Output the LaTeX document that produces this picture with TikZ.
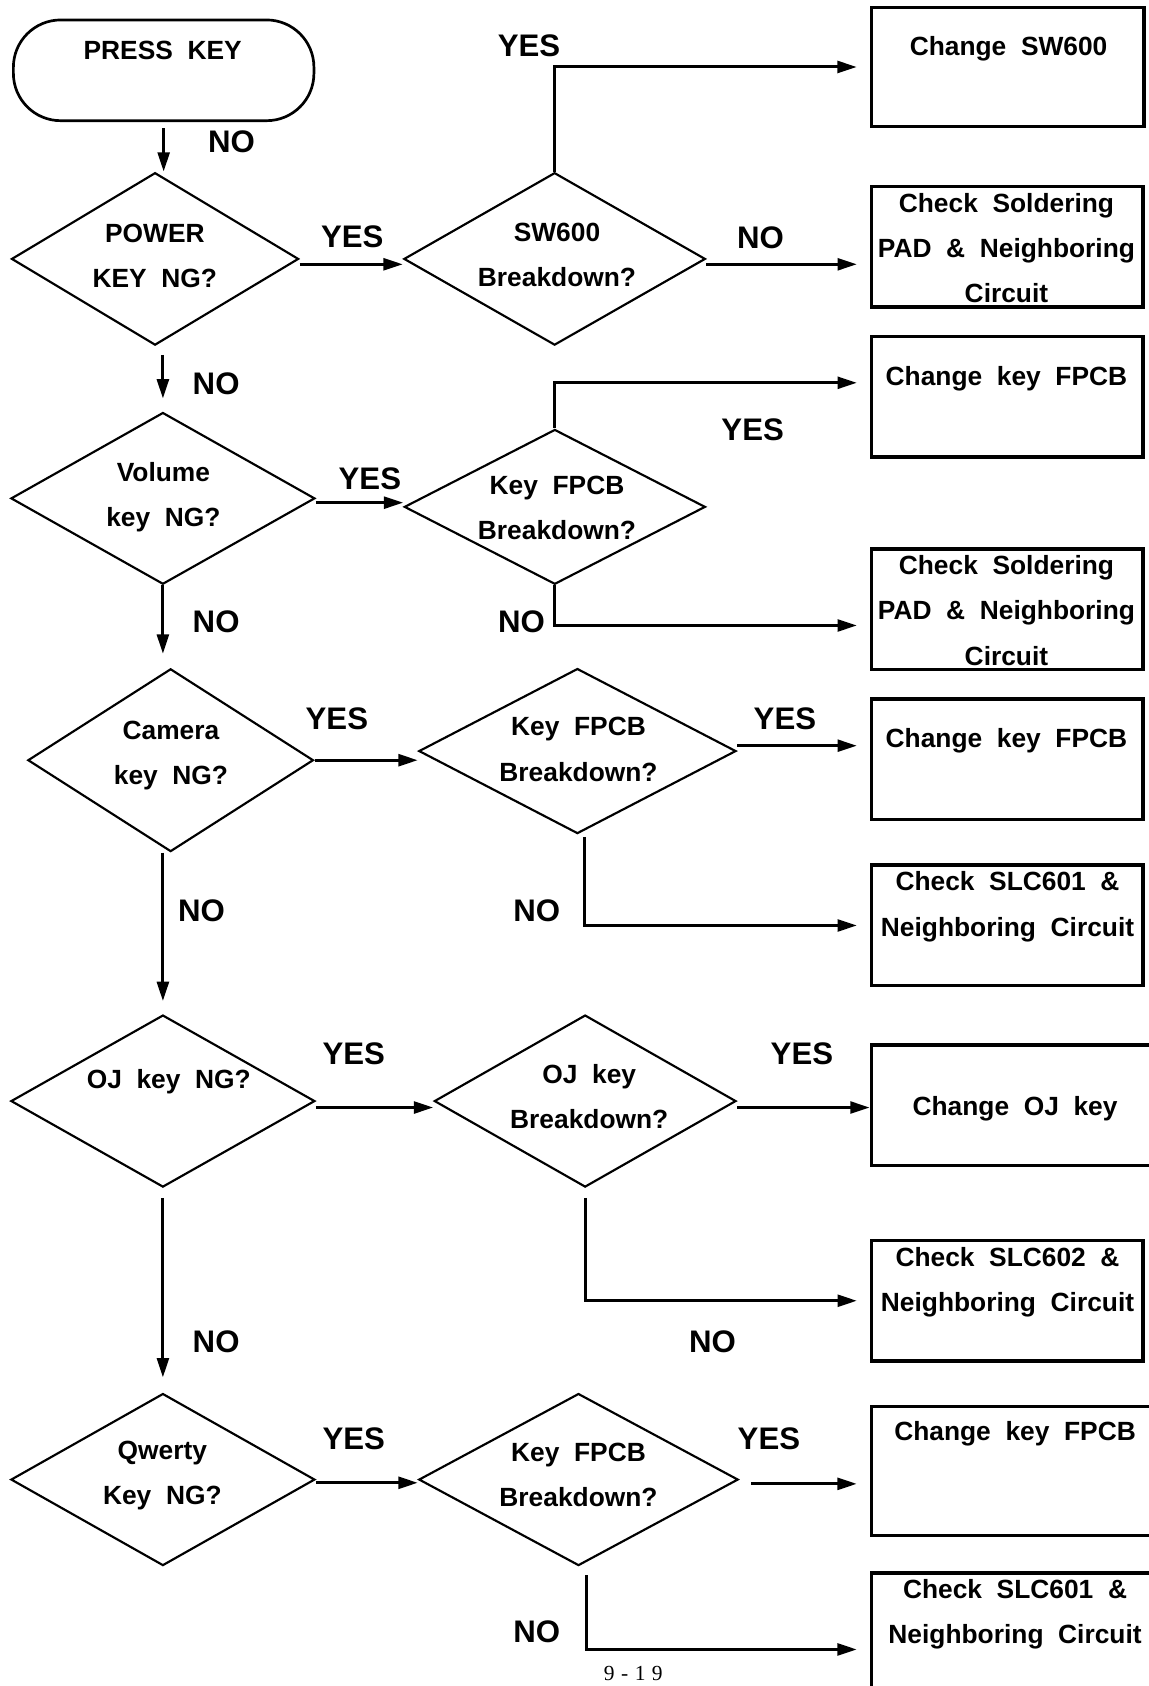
\documentclass[tikz,border=0pt]{standalone}
\usepackage{fontspec}
\setmainfont{Liberation Sans}[WordSpace=2]
\newfontfamily\pagenumfont{Liberation Serif}[LetterSpace=30]
\usepackage{tikz}
\usetikzlibrary{arrows.meta,shapes,positioning}

\begin{document}
\begin{tikzpicture}[x=1pt, y=-1pt,
    decision/.style={draw, diamond, line width=2pt, inner sep=0pt},
    action/.style={draw, line width=3.3pt, minimum width=252.5pt,
                   minimum height=112pt, inner sep=0pt},
    txt/.style={font=\fontsize{24.5}{42}\selectfont\bfseries, align=center, inner sep=0pt},
    answer/.style={font=\fontsize{29}{34}\selectfont\bfseries, inner sep=0pt},
    flow/.style={line width=2.8pt, -{Triangle[length=18pt, width=11pt]}}]
    \useasboundingbox (0,0) rectangle (1068,1568);

    \node[draw, line width=2.5pt, rounded corners=44pt,
          minimum width=279.5pt, minimum height=93.7pt] (start) at (152.2,65.4) {};
    \node[txt] (starttext) at (151.3,46.5) {PRESS KEY};

    \node[decision, minimum width=267pt, minimum height=160.4pt] (power) at (144.2,240.8) {};
    \node[decision, minimum width=282.7pt, minimum height=159.7pt] (volume) at (151.5,463.5) {};
    \node[decision, minimum width=265.6pt, minimum height=170pt] (camera) at (158.7,707) {};
    \node[decision, minimum width=282.7pt, minimum height=160pt] (ojkey) at (151.5,1024) {};
    \node[decision, minimum width=282.7pt, minimum height=160pt] (qwerty) at (151.5,1376) {};

    \node[decision, minimum width=280.4pt, minimum height=160.4pt] (sw) at (515.8,240.8) {};
    \node[decision, minimum width=280pt, minimum height=144pt] (fpcba) at (516,471.4) {};
    \node[decision, minimum width=295pt, minimum height=153.5pt] (fpcbb) at (537,698.5) {};
    \node[decision, minimum width=280.6pt, minimum height=160pt] (ojbrk) at (544.2,1024) {};
    \node[decision, minimum width=297pt, minimum height=160pt] (fpcbc) at (538,1376) {};

    \node[txt] (powertext) at (144,238) {POWER\\KEY NG?};
    \node[txt] (volumetext) at (152,462.5) {Volume\\key NG?};
    \node[txt] (cameratext) at (159,702.5) {Camera\\key NG?};
    \node[txt] (ojkeytext) at (157,1006) {OJ key NG?};
    \node[txt] (qwertytext) at (151,1372.5) {Qwerty\\Key NG?};

    \node[txt] (swtext) at (518,237) {SW600\\Breakdown?};
    \node[txt] (fpcbatext) at (518,472) {Key FPCB\\Breakdown?};
    \node[txt] (fpcbbtext) at (538,697) {Key FPCB\\Breakdown?};
    \node[txt] (ojbrktext) at (548,1020) {OJ key\\Breakdown?};
    \node[txt] (fpcbctext) at (538,1372) {Key FPCB\\Breakdown?};

    \node[action, minimum width=253.5pt, minimum height=111pt] (chsw) at (937.2,62.3) {};
    \node[action] (chpada) at (936.8,229.5) {};
    \node[action] (chfpcba) at (936.8,369) {};
    \node[action] (chpadb) at (936.8,566.7) {};
    \node[action] (chfpcbb) at (936.8,706) {};
    \node[action] (chslca) at (936.8,860.7) {};
    \node[action, minimum width=279.6pt] (choj) at (950.2,1027.9) {};
    \node[action] (chslcb) at (936.8,1209.7) {};
    \node[action, minimum width=279.5pt, minimum height=120pt] (chfpcbc) at (950.2,1368) {};
    \node[action, minimum width=279.5pt, minimum height=142pt] (chslcc) at (950.2,1534) {};

    \node[txt] (chswtext) at (938,45.7) {Change SW600};
    \node[txt] (chpadatext) at (936,230.8) {Check Soldering\\PAD \& Neighboring\\Circuit};
    \node[txt] (chfpcbatext) at (936,352.3) {Change key FPCB};
    \node[txt] (chpadbtext) at (936,567.8) {Check Soldering\\PAD \& Neighboring\\Circuit};
    \node[txt] (chfpcbbtext) at (936,689.3) {Change key FPCB};
    \node[txt] (chslcatext) at (937,843.3) {Check SLC601 \&\\Neighboring Circuit};
    \node[txt] (chojtext) at (944,1031.3) {Change OJ key};
    \node[txt] (chslcbtext) at (937,1192.3) {Check SLC602 \&\\Neighboring Circuit};
    \node[txt] (chfpcbctext) at (944,1333.3) {Change key FPCB};
    \node[txt] (chslcctext) at (944,1501.3) {Check SLC601 \&\\Neighboring Circuit};

    \draw[flow, shorten <=6pt] (start.south) -- (start.south |- power.north);
    \draw[flow, shorten <=8pt, shorten >=12pt] (power.south -| volume.north) -- (volume.north);
    \draw[flow, shorten >=13pt] (volume.south) -- (camera.north -| volume.south);
    \draw[flow, shorten >=12pt] (camera.south -| ojkey.north) -- (ojkey.north);
    \draw[flow, shorten <=9pt, shorten >=14pt] (ojkey.south) -- (qwerty.north);

    \draw[flow] ([yshift=-5pt]power.east) -- ([yshift=-5pt]sw.west);
    \draw[flow] ([yshift=-4pt]volume.east) -- ([yshift=-4pt]volume.east -| fpcba.west);
    \draw[flow] (camera.east) -- (camera.east -| fpcbb.west);
    \draw[flow] ([yshift=-6pt]ojkey.east) -- ([yshift=-6pt]ojbrk.west);
    \draw[flow] ([yshift=-3pt]qwerty.east) -- ([yshift=-3pt]fpcbc.west);

    \draw[flow, shorten >=12pt] (sw.north) |- (chsw.west);
    \draw[flow, shorten >=12pt] ([yshift=-5pt]sw.east) -- ([yshift=-5pt]sw.east -| chpada.west);
    \draw[flow, shorten >=12pt] (fpcba.north) |- ([yshift=13pt]chfpcba.west);
    \draw[flow, shorten >=12pt] (fpcba.south) |- ([yshift=-15pt]chpadb.west);
    \draw[flow, shorten >=12pt] ([yshift=5pt]fpcbb.east) -- ([yshift=5pt]fpcbb.east -| chfpcbb.west);
    \draw[flow, shorten <=2pt, shorten >=12pt] ([xshift=7pt]fpcbb.south) |- (chslca.west);
    \draw[flow] ([yshift=-6pt]ojbrk.east) -- ([yshift=-6pt]ojbrk.east -| choj.west);
    \draw[flow, shorten <=9pt, shorten >=12pt] (ojbrk.south) |- (chslcb.west);
    \draw[flow, shorten <=11pt, shorten >=12pt] ([yshift=-4pt]fpcbc.east) -- ([yshift=-4pt]fpcbc.east -| chfpcbc.west);
    \draw[flow, shorten <=8pt, shorten >=12pt] ([xshift=7pt]fpcbc.south) |- (chslcc.west);

    \node[answer] (no1) at (215.4,131.8) {NO};
    \node[answer] (yes1) at (327.6,220.2) {YES};
    \node[answer] (yes2) at (492,43) {YES};
    \node[answer] (no2) at (707.3,221.4) {NO};
    \node[answer] (no3) at (201,356.5) {NO};
    \node[answer] (yes3) at (344,445) {YES};
    \node[answer] (yes4) at (700,400) {YES};
    \node[answer] (no4) at (484.9,578.4) {NO};
    \node[answer] (no5) at (201,578.4) {NO};
    \node[answer] (yes5) at (313.3,668.3) {YES};
    \node[answer] (yes6) at (730,668.3) {YES};
    \node[answer] (no6) at (499.2,846.6) {NO};
    \node[answer] (no7) at (187.3,846.6) {NO};
    \node[answer] (yes7) at (329,980) {YES};
    \node[answer] (yes8) at (745.8,980) {YES};
    \node[answer] (no8) at (201,1248.2) {NO};
    \node[answer] (no9) at (662.7,1248.2) {NO};
    \node[answer] (yes9) at (329,1338) {YES};
    \node[answer] (yes10) at (715.1,1338) {YES};
    \node[answer] (no10) at (499.2,1518) {NO};

    \node[font=\fontsize{20}{22}\selectfont\pagenumfont, inner sep=0pt] (pagenum) at (589,1556) {9-19};
\end{tikzpicture}
\end{document}
